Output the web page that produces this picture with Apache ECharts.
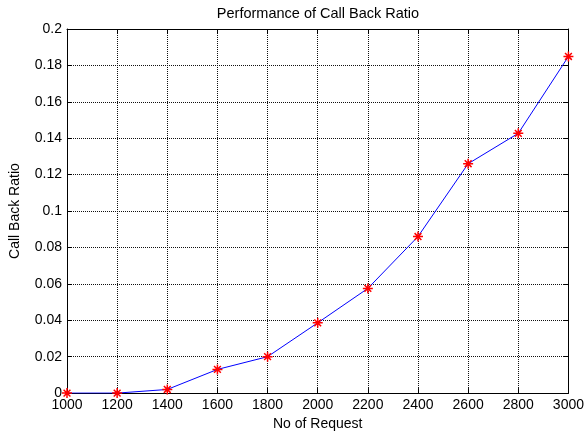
<!DOCTYPE html>
<html>
<head>
<meta charset="utf-8">
<script src="https://cdn.jsdelivr.net/npm/echarts@6/dist/echarts.min.js"></script>
<style>
  html, body { margin: 0; padding: 0; background: #fff; }
  #chart { width: 587px; height: 436px; }
</style>
</head>
<body>
<div id="chart"></div>
<script>
// Number of requests (x) and the measured call back ratio (y)
const requests = [1000, 1200, 1400, 1600, 1800, 2000, 2200, 2400, 2600, 2800, 3000];
const callBackRatio = [0, 0, 0.002, 0.013, 0.020, 0.0386, 0.0575, 0.086, 0.126, 0.1427, 0.1849];

const xTicks = { min: 1000, max: 3000, step: 200 };
const yTicks = { min: 0, max: 0.2, step: 0.02 };

const FONT = '"Liberation Sans", Arial, Helvetica, sans-serif';

// Asterisk marker: horizontal, vertical and two diagonal strokes
const asterisk = 'path://M0,5L10,5M5,0L5,10M1.6,1.6L8.4,8.4M1.6,8.4L8.4,1.6';

const gridLine = { show: true, lineStyle: { color: '#111', type: [1, 1], width: 1 } };
const boxLine = { show: true, onZero: false, lineStyle: { color: '#000', width: 1 } };
const inTicks = { show: true, inside: true, length: 5, lineStyle: { color: '#000', width: 1 } };

const chart = echarts.init(document.getElementById('chart'), null, { renderer: 'canvas' });

chart.setOption({
  animation: false,
  backgroundColor: '#fff',
  textStyle: { fontFamily: FONT },
  title: {
    text: 'Performance of Call Back Ratio',
    left: 318,
    textAlign: 'center',
    top: 6,
    padding: 0,
    textStyle: { fontFamily: FONT, fontSize: 14.5, fontWeight: 'normal', color: '#000', lineHeight: 16 }
  },
  grid: { left: 67, right: 18, top: 29, bottom: 42, containLabel: false },
  xAxis: [
    {
      type: 'value', position: 'bottom',
      min: xTicks.min, max: xTicks.max, interval: xTicks.step,
      name: 'No of Request', nameLocation: 'middle', nameGap: 22,
      nameTextStyle: { fontFamily: FONT, fontSize: 14, color: '#000' },
      axisLine: boxLine, axisTick: inTicks,
      axisLabel: { margin: 5, fontFamily: FONT, fontSize: 14, color: '#000', formatter: v => String(v) },
      splitLine: gridLine
    },
    {
      type: 'value', position: 'top',
      min: xTicks.min, max: xTicks.max, interval: xTicks.step,
      axisLine: boxLine, axisTick: inTicks,
      axisLabel: { show: false }, splitLine: { show: false }
    }
  ],
  yAxis: [
    {
      type: 'value', position: 'left',
      min: yTicks.min, max: yTicks.max, interval: yTicks.step,
      name: 'Call Back Ratio', nameLocation: 'middle', nameGap: 45, nameRotate: 90,
      nameTextStyle: { fontFamily: FONT, fontSize: 14, color: '#000' },
      axisLine: boxLine, axisTick: inTicks,
      axisLabel: {
        margin: 5, fontFamily: FONT, fontSize: 14, color: '#000',
        formatter: v => String(parseFloat(v.toFixed(2)))
      },
      splitLine: gridLine
    },
    {
      type: 'value', position: 'right',
      min: yTicks.min, max: yTicks.max, interval: yTicks.step,
      axisLine: boxLine, axisTick: inTicks,
      axisLabel: { show: false }, splitLine: { show: false }
    }
  ],
  series: [
    {
      type: 'line',
      xAxisIndex: 0, yAxisIndex: 0,
      data: requests.map((x, i) => [x, callBackRatio[i]]),
      lineStyle: { color: '#0000ff', width: 1 },
      symbol: asterisk,
      symbolSize: 10,
      showAllSymbol: true,
      itemStyle: { color: '#ff0000', borderColor: '#ff0000', borderWidth: 1.5 },
      z: 5
    }
  ]
});
</script>
</body>
</html>
